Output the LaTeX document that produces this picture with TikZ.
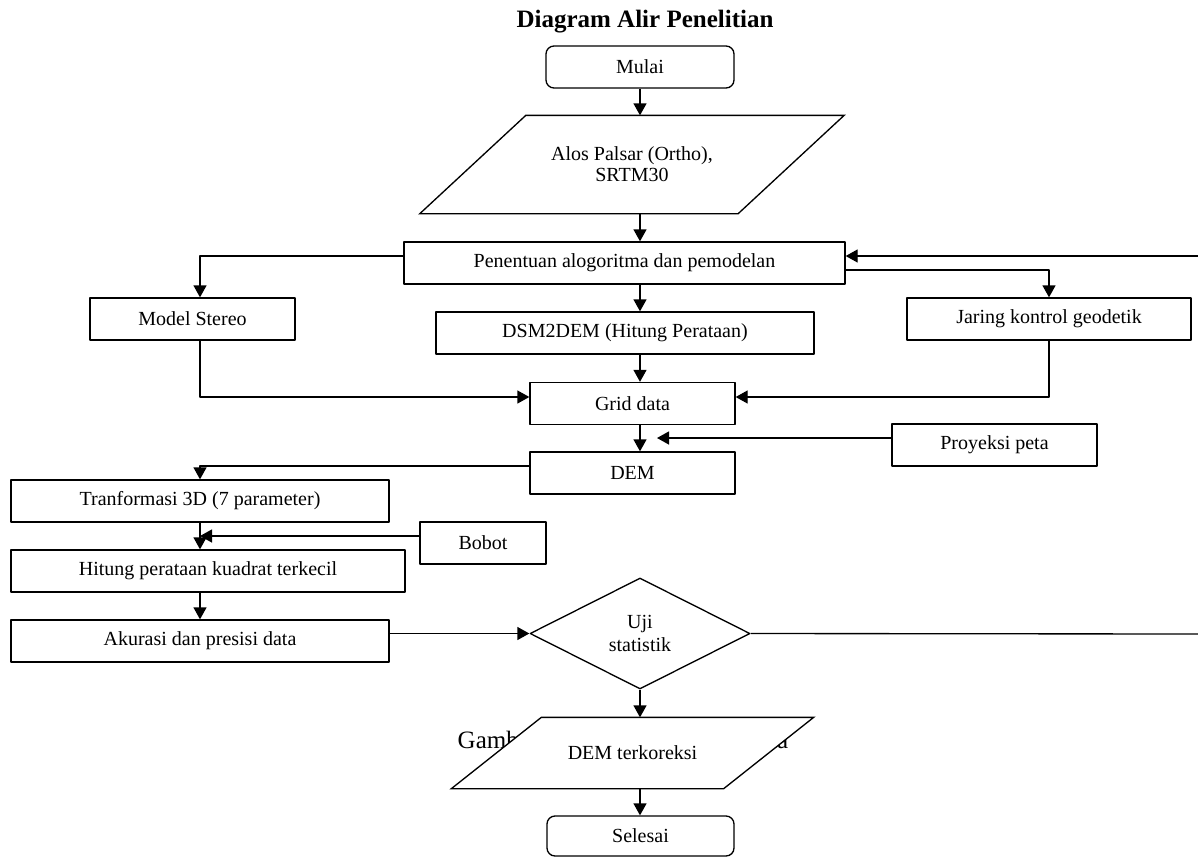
\documentclass[tikz,border=0pt]{standalone}
\usepackage{fontspec}
\setmainfont{Liberation Serif}
\usetikzlibrary{arrows.meta,shapes.geometric,backgrounds}

\begin{document}
\begin{tikzpicture}[x=0.75pt,y=-0.75pt,line join=round,
		>={Triangle[width=9.75pt,length=9pt]},
		proses/.style={draw,rectangle,line width=1pt,minimum height=31.5pt,inner sep=2pt,fill=white,font=\fontsize{15}{18}\selectfont},
		terminal/.style={proses,rounded corners=6pt},
		dataio/.style={proses,draw=none,fill=none,align=center},
		jajargenjang/.style={line width=1pt,fill=white},
		keputusan/.style={proses,diamond,align=center,font=\fontsize{15}{17.5}\selectfont},
		alur/.style={line width=1pt,->},
		garis/.style={line width=1pt}]
		\useasboundingbox (0,0) rectangle (1198,857);
		\coordinate (poros) at (640,0);
		\coordinate (balikR) at (1198,256);
		\coordinate (ujiR) at (1198,634);
		\coordinate (proyUjung) at (657,438);
		\node[font=\bfseries\fontsize{18.75}{22}\selectfont] (judul) at (645,22) {Diagram Alir Penelitian};
		\node[terminal,minimum width=141pt] (mulai) at (640,67) {Mulai};
		\node[dataio,minimum width=237.75pt,minimum height=72.75pt,font=\fontsize{15}{15.75}\selectfont] (alos) at (632,164.5) {Alos Palsar (Ortho),\\SRTM30};
		\node[proses,minimum width=330.75pt] (pen) at (624.5,263) {Penentuan alogoritma dan pemodelan};
		\node[proses,minimum width=153.75pt] (stereo) at (192.5,319) {Model Stereo};
		\node[proses,minimum width=283.5pt] (dsm) at (625,333) {DSM2DEM (Hitung Perataan)};
		\node[proses,minimum width=213pt] (jaring) at (1049,319) {Jaring kontrol geodetik};
		\node[proses,minimum width=153.75pt] (grid) at (632.5,403.5) {Grid data};
		\node[proses,minimum width=153.75pt] (proy) at (994.5,445) {Proyeksi peta};
		\node[proses,minimum width=153.75pt] (dem) at (632.5,473) {DEM};
		\node[proses,minimum width=283.5pt] (trans) at (200,501) {Tranformasi 3D (7 parameter)};
		\node[proses,minimum width=94.5pt] (bobot) at (483,543) {Bobot};
		\node[proses,minimum width=295.5pt] (hitung) at (208,571) {Hitung perataan kuadrat terkecil};
		\node[proses,minimum width=283.5pt] (akurasi) at (200,641) {Akurasi dan presisi data};
		\node[keputusan,minimum width=165pt,minimum height=83.25pt] (uji) at (640,633.5) {Uji\\statistik};
		\node[dataio,minimum width=203.25pt,minimum height=52.5pt] (demk) at (632.5,753) {DEM terkoreksi};
		\node[terminal,minimum width=140.25pt,minimum height=30pt] (selesai) at (640.5,836) {Selesai};
		\begin{pgfonlayer}{background}
			\draw[jajargenjang] ([xshift=-39.75pt]alos.south west) -- ([xshift=39.75pt]alos.north west) -- ([xshift=39.75pt]alos.north east) -- ([xshift=-39.75pt]alos.south east) -- cycle;
			\node[anchor=base west,font=\fontsize{18.75}{22}\selectfont] (keterangan) at (453,748) {Gambar 1. Diagram Alir Metoda};
			\draw[jajargenjang] ([xshift=-33.75pt]demk.south west) -- ([xshift=33.75pt]demk.north west) -- ([xshift=33.75pt]demk.north east) -- ([xshift=-33.75pt]demk.south east) -- cycle;
		\end{pgfonlayer}
		\draw[alur] (mulai.south) -- (poros |- alos.north);
		\draw[alur] (poros |- alos.south) -- (poros |- pen.north);
		\draw[alur] ([yshift=5.25pt]pen.west) -| ([xshift=5.625pt]stereo.north);
		\draw[alur] (poros |- pen.south) -- (poros |- dsm.north);
		\draw[alur] ([yshift=-5.25pt]pen.east) -| (jaring.north);
		\draw[alur] (balikR) -- (balikR -| pen.east);
		\draw[alur] ([xshift=5.625pt]stereo.south) |- ([yshift=4.875pt]grid.west);
		\draw[alur] (jaring.south) |- ([yshift=4.875pt]grid.east);
		\draw[alur] (poros |- dsm.south) -- (poros |- grid.north);
		\draw[alur] (poros |- grid.south) -- (poros |- dem.north);
		\draw[alur] (proyUjung -| proy.west) -- (proyUjung);
		\draw[alur] ([yshift=5.25pt]dem.west) -| (trans.north);
		\draw[alur] (trans.south) -- (trans.south |- hitung.north);
		\draw[alur] ([yshift=5.25pt]bobot.west) -- ([yshift=5.25pt]bobot.west -| trans.south);
		\draw[alur] (trans.south |- hitung.south) -- (trans.south |- akurasi.north);
		\draw[alur] (akurasi.east |- uji.west) -- (uji.west);
		\draw[garis] (uji.east) -- (ujiR);
		\draw[alur] (uji.south) -- (uji.south |- demk.north);
		\draw[alur] (poros |- demk.south) -- (poros |- selesai.north);
\end{tikzpicture}
\end{document}
